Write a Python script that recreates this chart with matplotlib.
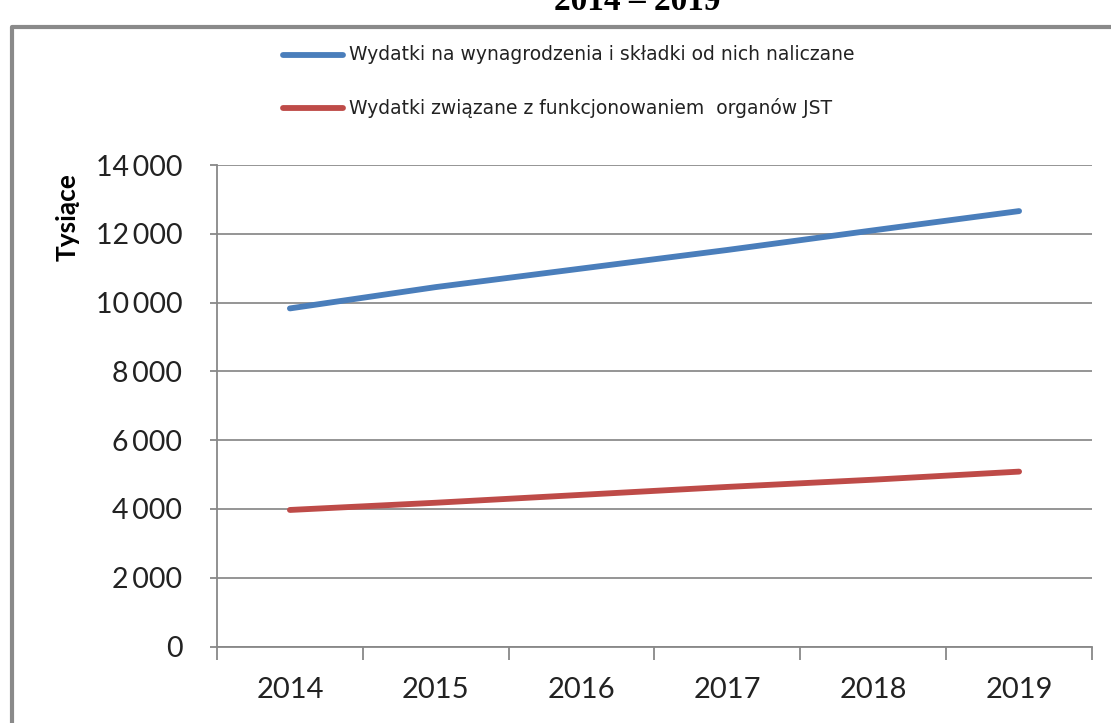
import matplotlib.pyplot as plt
from matplotlib.lines import Line2D
import numpy as np

years = ['2014', '2015', '2016', '2017', '2018', '2019']
wynagrodzenia = [9830, 10450, 10990, 11530, 12100, 12660]
organy = [3970, 4180, 4410, 4640, 4850, 5085]
labels = ['Wydatki na wynagrodzenia i składki od nich naliczane',
          'Wydatki związane z funkcjonowaniem  organów JST']
yticks = [0, 2000, 4000, 6000, 8000, 10000, 12000, 14000]

plt.rcParams['font.family'] = ['Lato', 'DejaVu Sans']

fig = plt.figure(figsize=(11.11, 7.23), dpi=100)
ax = fig.add_axes([217/1111, 1-646.5/723, (1092-217)/1111, (646.5-165)/723])

x = np.arange(len(years))
l1, = ax.plot(x, wynagrodzenia, color='#4a7ebb', linewidth=4.2, solid_capstyle='round')
l2, = ax.plot(x, organy, color='#be4b48', linewidth=4.2, solid_capstyle='round')

ax.set_xlim(-0.5, len(years) - 0.5)
ax.set_ylim(0, 14000)
ax.set_yticks(yticks)
ax.set_yticklabels(['{:,}'.format(v).replace(',', '\u2009') for v in yticks],
                   fontsize=20.5, color='#222222')
ax.set_xticks(x)
ax.set_xticklabels(years, fontsize=21, color='#222222')
ax.set_xticks(np.arange(-0.5, len(years)), minor=True)
ax.tick_params(axis='x', which='major', length=0, pad=22)
ax.tick_params(axis='x', which='minor', length=9, color='#888888', width=1.3)
ax.tick_params(axis='y', length=5, color='#888888', width=1.3, pad=20)
ax.grid(axis='y', color='#8c8c8c', linewidth=1.3)
ax.set_axisbelow(True)
for s in ['top', 'right']:
    ax.spines[s].set_visible(False)
for s in ['left', 'bottom']:
    ax.spines[s].set_color('#888888')
    ax.spines[s].set_linewidth(1.3)
ax.set_ylabel('Tysiące', fontsize=19, fontweight='bold')
ax.yaxis.set_label_coords(-0.1566, 0.892)

# legend drawn by hand in figure pixels
for i, (ln, lab) in enumerate(zip([l1, l2], labels)):
    yy = 1 - (55 + i*53)/723
    fig.add_artist(Line2D([283/1111, 343/1111], [yy, yy], color=ln.get_color(),
                          linewidth=4.2, solid_capstyle='round'))
    fig.text(349/1111, yy, lab, fontsize=13.5, va='center', color='#222222',
             family=['Liberation Sans Narrow', 'DejaVu Sans'])

# chart frame
fig.add_artist(Line2D([12/1111, 12/1111, 1.0], [0.0, 1-27/723, 1-27/723],
                      color='#8a8a8a', linewidth=3))

fig.text(637/1111, 1-10/723, '2014 \u2013 2019', ha='center', va='baseline',
         fontsize=24, fontweight='bold', family='Liberation Serif')

fig.savefig('out.png', dpi=100)
